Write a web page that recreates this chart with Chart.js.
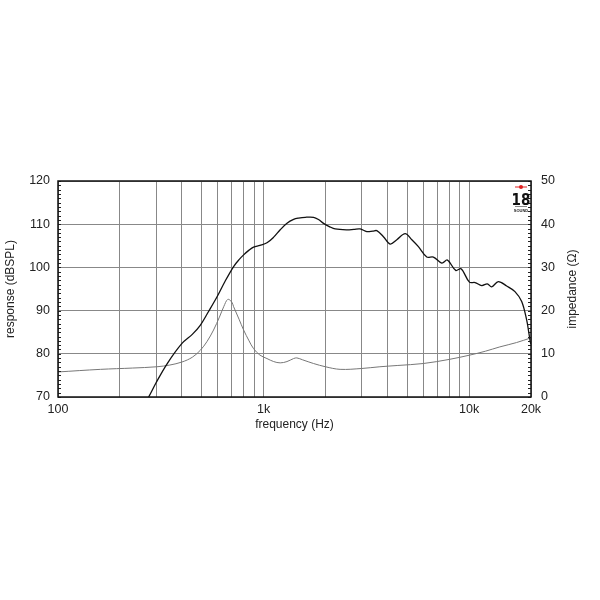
<!DOCTYPE html>
<html>
<head>
<meta charset="utf-8">
<style>
  html, body { margin:0; padding:0; background:#fff; }
  #wrap { position:absolute; left:0; top:0; width:600px; height:600px; }
</style>
<script src="https://cdn.jsdelivr.net/npm/chart.js@4/dist/chart.umd.min.js"></script>
</head>
<body>
<div id="wrap"><canvas id="c" width="600" height="600"></canvas></div>
<script>
// frequency grid and labels
var gridFreqs = [100,200,300,400,500,600,700,800,900,1000,2000,3000,4000,5000,6000,7000,8000,9000,10000,20000];
var freqLabels = { 100:"100", 1000:"1k", 10000:"10k", 20000:"20k" };
var respTicks = [70,80,90,100,110,120];
var impTicks = [0,10,20,30,40,50];

// response (dBSPL)
var respFreq = [262,276,300,340,401,450,492,540,594,650,715,760,800,850,894,960,1039,1120,1205,1300,1400,1479,1595,1751,1850,1958,2100,2230,2541,2750,2950,3178,3400,3555,3830,4126,4449,4884,5264,5666,6224,6700,7363,7840,8607,9140,10030,10690,11520,12260,12870,13870,15230,16710,18020,19060,19500,19920,20000];
var respDb = [68.5,70,73.3,77.75,82.4,84.5,86.6,89.8,93.2,96.8,100.2,101.8,102.9,104.0,104.7,105.1,105.7,107.0,108.7,110.2,111.1,111.4,111.6,111.6,111.1,110.2,109.4,108.9,108.7,108.8,108.9,108.3,108.4,108.5,107.1,105.4,106.4,107.8,106.4,104.8,102.4,102.4,101.0,101.7,99.3,99.7,96.6,96.5,95.8,96.2,95.5,96.7,95.7,94.4,92.1,87.8,85.0,82.4,82.8];

// impedance (ohm)
var impFreq = [100,161,230,303,350,401,450,492,530,571,610,640,670,700,715,760,800,850,894,960,1039,1120,1205,1300,1400,1452,1550,1751,2000,2357,3000,3680,4500,5980,8000,10070,12000,14110,17000,20000];
var impOhm = [5.8,6.4,6.7,7.0,7.4,8.1,9.2,10.8,12.8,15.5,18.5,20.9,22.6,22.0,20.9,18.0,15.5,13.0,11.2,9.7,8.9,8.2,7.9,8.2,8.9,9.05,8.6,7.75,7.0,6.4,6.6,7.0,7.3,7.75,8.7,9.7,10.6,11.6,12.6,13.7];

function pts(xs, ys){ var a=[]; for (var i=0;i<xs.length;i++){ a.push({x:xs[i], y:ys[i]}); } return a; }

var FONT = "'Liberation Sans', Arial, sans-serif";
Chart.defaults.font.family = FONT;
Chart.defaults.color = "#222";

// minor ticks inside both y axes, border, logo, right axis title
var extras = {
  id: "extras",
  afterDraw: function(chart){
    var ctx = chart.ctx, a = chart.chartArea;
    var yl = chart.scales.y, yr = chart.scales.y2;
    ctx.save();
    ctx.strokeStyle = "#222"; ctx.lineWidth = 1;
    ctx.beginPath();
    for (var v=70; v<=120; v++){
      var py = Math.round(yl.getPixelForValue(v)) + 0.5;
      ctx.moveTo(a.left, py); ctx.lineTo(a.left+3, py);
    }
    for (var w=0; w<=50; w++){
      var qy = Math.round(yr.getPixelForValue(w)) + 0.5;
      ctx.moveTo(a.right, qy); ctx.lineTo(a.right-3, qy);
    }
    ctx.stroke();
    ctx.lineWidth = 1.5; ctx.strokeStyle = "#111";
    ctx.strokeRect(a.left, a.top, a.right-a.left, a.bottom-a.top);

    // logo
    var lx = a.right - 10;
    ctx.strokeStyle = "#e02020"; ctx.lineWidth = 1;
    ctx.beginPath(); ctx.moveTo(lx-6, a.top+6); ctx.lineTo(lx+6, a.top+6); ctx.stroke();
    ctx.fillStyle = "#e02020";
    ctx.beginPath(); ctx.arc(lx, a.top+6, 2, 0, Math.PI*2); ctx.fill();
    ctx.fillStyle = "#111"; ctx.textAlign = "center"; ctx.textBaseline = "alphabetic";
    ctx.font = "bold 15px 'Liberation Sans Narrow', 'DejaVu Sans Condensed', sans-serif";
    ctx.fillText("18", lx, a.top+24);
    ctx.fillStyle = "#888"; ctx.fillRect(lx-6, a.top+25, 12, 1);
    ctx.fillStyle = "#222"; ctx.font = "bold 4px " + FONT;
    ctx.fillText("SOUND", lx, a.top+31);

    // right axis title, reading upward
    ctx.fillStyle = "#222"; ctx.font = "12px " + FONT;
    ctx.translate(573, (a.top+a.bottom)/2);
    ctx.rotate(-Math.PI/2);
    ctx.textAlign = "center"; ctx.textBaseline = "middle";
    ctx.fillText("impedance (\u03A9)", 0, 0);
    ctx.restore();
  }
};

new Chart(document.getElementById("c"), {
  type: "line",
  data: {
    datasets: [
      { label:"response", data: pts(respFreq, respDb), yAxisID:"y", borderColor:"#111", borderWidth:1.3, pointRadius:0, tension:0.35, fill:false },
      { label:"impedance", data: pts(impFreq, impOhm), yAxisID:"y2", borderColor:"#777", borderWidth:1, pointRadius:0, tension:0.35, fill:false }
    ]
  },
  options: {
    responsive:false, animation:false,
    layout:{ padding:{ top:181, left:0, right:0, bottom:0 } },
    plugins:{ legend:{display:false}, tooltip:{enabled:false} },
    scales:{
      x:{
        type:"logarithmic", min:100, max:20000,
        afterBuildTicks:function(s){ s.ticks = gridFreqs.map(function(f){ return {value:f}; }); },
        afterFit:function(s){ s.height = 203; },
        ticks:{ autoSkip:false, maxRotation:0, padding:5, font:{size:12.5}, color:"#222",
          callback:function(v){ return freqLabels[v] || ""; } },
        grid:{ color:"#888", lineWidth:1, drawTicks:false },
        border:{ display:false },
        title:{ display:true, text:"frequency (Hz)", font:{size:12}, color:"#222", padding:{top:0, bottom:168} }
      },
      y:{
        position:"left", min:70, max:120,
        afterBuildTicks:function(s){ s.ticks = respTicks.map(function(v){ return {value:v}; }); },
        afterFit:function(s){ s.width = 58; },
        ticks:{ padding:8, font:{size:12.5}, color:"#222" },
        grid:{ color:"#888", lineWidth:1, drawTicks:false },
        border:{ display:false },
        title:{ display:true, text:"response (dBSPL)", font:{size:12}, color:"#222", padding:{top:3, bottom:0} }
      },
      y2:{
        position:"right", min:0, max:50,
        afterBuildTicks:function(s){ s.ticks = impTicks.map(function(v){ return {value:v}; }); },
        afterFit:function(s){ s.width = 69; },
        ticks:{ padding:10, font:{size:12.5}, color:"#222" },
        grid:{ display:false, drawTicks:false },
        border:{ display:false }
      }
    }
  },
  plugins:[extras]
});
</script>
</body>
</html>
